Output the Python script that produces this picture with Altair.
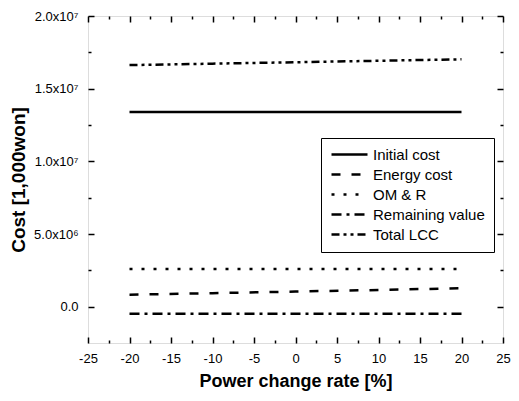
import altair as alt
import pandas as pd

# Data
rates = [-20, -10, 0, 10, 20]
initial_cost = [13.4e6, 13.4e6, 13.4e6, 13.4e6, 13.4e6]
energy_cost = [0.82e6, 0.93e6, 1.04e6, 1.15e6, 1.27e6]
om_r = [2.6e6, 2.6e6, 2.6e6, 2.6e6, 2.6e6]
remaining_value = [-0.48e6, -0.48e6, -0.48e6, -0.48e6, -0.48e6]
total_lcc = [16.62e6, 16.72e6, 16.82e6, 16.92e6, 17.02e6]

series_names = ["Initial cost", "Energy cost", "OM & R", "Remaining value", "Total LCC"]
series_values = [initial_cost, energy_cost, om_r, remaining_value, total_lcc]
dash_styles = [[1, 0], [9, 11], [3, 9], [10, 5, 3, 5], [8, 4, 3, 4, 3, 4]]

x_major = [-25, -20, -15, -10, -5, 0, 5, 10, 15, 20, 25]
x_minor = [-22.5, -17.5, -12.5, -7.5, -2.5, 2.5, 7.5, 12.5, 17.5, 22.5]
y_major = [0, 5000000, 10000000, 15000000, 20000000]
y_minor = [2500000, 7500000, 12500000, 17500000]
y_labels = ["0.0", "5.0x10\u2076", "1.0x10\u2077", "1.5x10\u2077", "2.0x10\u2077"]

rows = []
for name, vals in zip(series_names, series_values):
    for r, v in zip(rates, vals):
        rows.append({"rate": r, "cost": v, "series": name})
df = pd.DataFrame(rows)

FONT = "Liberation Sans"
MAJ = 6
MIN = 3

y_label_expr = " : ".join(
    f"datum.value === {v} ? '{t}'" for v, t in zip(y_major, y_labels)
) + " : ''"

x_scale = alt.Scale(domain=[-25, 25], nice=False, zero=False)
y_scale = alt.Scale(domain=[-2500000, 20000000], nice=False, zero=False)


def tick_axis(orient, values, size):
    return alt.Axis(
        orient=orient,
        values=values,
        labels=False,
        tickSize=size,
        offset=-size,
        tickWidth=1.5,
        tickColor="black",
        domain=False,
        grid=False,
        title=None,
    )


lines = alt.Chart(df).mark_line(strokeWidth=2.5, color="black", strokeCap="butt").encode(
    x=alt.X(
        "rate:Q",
        scale=x_scale,
        axis=alt.Axis(
            orient="bottom",
            values=x_major,
            labelExpr="toString(datum.value)",
            labelFlush=False,
            labelOverlap=False,
            tickSize=MAJ,
            offset=-MAJ,
            tickWidth=1.5,
            tickColor="black",
            labelPadding=MAJ + 3,
            labelFont=FONT,
            labelFontSize=13,
            labelColor="black",
            domain=False,
            grid=False,
            title="Power change rate [%]",
            titleFont=FONT,
            titleFontSize=18,
            titleFontWeight="bold",
            titleColor="black",
            titlePadding=7,
        ),
    ),
    y=alt.Y(
        "cost:Q",
        scale=y_scale,
        axis=alt.Axis(
            orient="left",
            values=y_major,
            labelExpr=y_label_expr,
            labelFlush=False,
            labelOverlap=False,
            tickSize=MAJ,
            offset=-MAJ,
            tickWidth=1.5,
            tickColor="black",
            labelPadding=MAJ + 4,
            labelFont=FONT,
            labelFontSize=13,
            labelColor="black",
            domain=False,
            grid=False,
            title="Cost [1,000won]",
            titleFont=FONT,
            titleFontSize=19,
            titleFontWeight="bold",
            titleColor="black",
            titlePadding=5,
        ),
    ),
    strokeDash=alt.StrokeDash(
        "series:N",
        scale=alt.Scale(domain=series_names, range=dash_styles),
        sort=series_names,
        legend=alt.Legend(
            title=None,
            orient="none",
            legendX=233,
            legendY=122,
            symbolType="stroke",
            symbolSize=1296,
            symbolStrokeWidth=2.5,
            symbolStrokeColor="black",
            clipHeight=15,
            labelFont=FONT,
            labelFontSize=15,
            labelColor="black",
            labelOffset=4,
            rowPadding=4,
            padding=9,
            strokeColor="black",
            fillColor="white",
        ),
    ),
)

base = alt.Chart(df).mark_point(opacity=0)

major_mirror = base.encode(
    x=alt.X("rate:Q", scale=x_scale, axis=tick_axis("top", x_major, MAJ)),
    y=alt.Y("cost:Q", scale=y_scale, axis=tick_axis("right", y_major, MAJ)),
)
minor_main = base.encode(
    x=alt.X("rate:Q", scale=x_scale, axis=tick_axis("bottom", x_minor, MIN)),
    y=alt.Y("cost:Q", scale=y_scale, axis=tick_axis("left", y_minor, MIN)),
)
minor_mirror = base.encode(
    x=alt.X("rate:Q", scale=x_scale, axis=tick_axis("top", x_minor, MIN)),
    y=alt.Y("cost:Q", scale=y_scale, axis=tick_axis("right", y_minor, MIN)),
)

chart = (
    alt.layer(lines, major_mirror, minor_main, minor_mirror)
    .properties(
        width=415,
        height=327,
        autosize=alt.AutoSizeParams(type="none"),
        padding={"left": 80, "top": 8, "right": 8, "bottom": 50},
    )
    .configure_view(stroke="black", strokeWidth=2)
    .configure(background="white")
)

chart.save("out.html", embed_options={"renderer": "svg", "actions": False})
